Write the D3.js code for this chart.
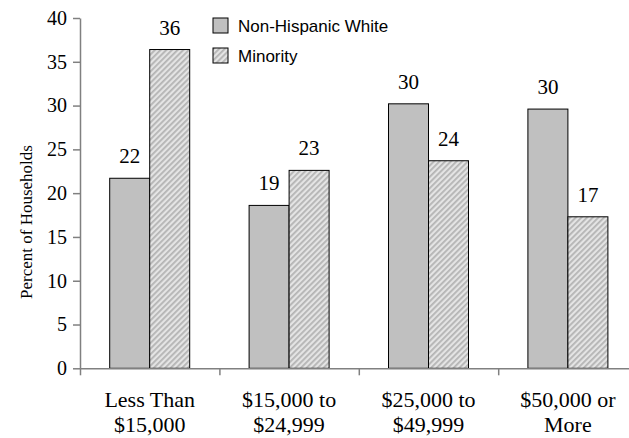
<!DOCTYPE html>
<html><head><meta charset="utf-8">
<script src="https://cdn.jsdelivr.net/npm/d3@7"></script>
<style>
html,body{margin:0;padding:0;background:#fff;}
svg{display:block;}
</style></head>
<body>
<svg id="chart" width="629" height="438"></svg>
<script>
const categories = ["Less Than|$15,000", "$15,000 to|$24,999", "$25,000 to|$49,999", "$50,000 or|More"];
const seriesNames = ["Non-Hispanic White", "Minority"];
const nonHispanicWhite = [21.7, 18.6, 30.2, 29.6];
const minority = [36.4, 22.6, 23.7, 17.3];
const yTicks = [0, 5, 10, 15, 20, 25, 30, 35, 40];

const svg = d3.select("#chart");
const defs = svg.append("defs");
const pat = defs.append("pattern").attr("id", "hatch").attr("patternUnits", "userSpaceOnUse")
  .attr("width", 4).attr("height", 4).attr("patternTransform", "rotate(45)");
pat.append("rect").attr("width", 4).attr("height", 4).attr("fill", "#e4e4e4");
pat.append("rect").attr("width", 1.8).attr("height", 4).attr("fill", "#b4b4b4");

const left = 80, right = 637.6, y0 = 368.3, y40 = 18;
const x = d3.scaleBand().domain(categories).range([left, right]).padding(0);
const sub = d3.scaleBand().domain(seriesNames).range([0, x.bandwidth()]).paddingInner(0).paddingOuter(0.7425);
const y = d3.scaleLinear().domain([0, 40]).range([y0, y40]);
const xb = d3.scaleLinear().domain([0, 4]).range([left, right]);

const fills = {"Non-Hispanic White": "#c0c0c0", "Minority": "url(#hatch)"};
const data = [];
categories.forEach((c, i) => {
  data.push({cat: c, s: seriesNames[0], v: nonHispanicWhite[i]});
  data.push({cat: c, s: seriesNames[1], v: minority[i]});
});

// bars
svg.append("g").selectAll("rect").data(data).join("rect")
  .attr("x", d => x(d.cat) + sub(d.s))
  .attr("y", d => y(d.v))
  .attr("width", sub.bandwidth())
  .attr("height", d => y(0) - y(d.v))
  .attr("fill", d => fills[d.s])
  .attr("stroke", "#000").attr("stroke-width", 1);

// value labels
svg.append("g").selectAll("text").data(data).join("text")
  .attr("x", d => x(d.cat) + sub(d.s) + sub.bandwidth() / 2)
  .attr("y", d => y(d.v) - 15)
  .attr("text-anchor", "middle")
  .attr("font-family", "Liberation Serif, Times New Roman, serif")
  .attr("font-size", 21)
  .attr("fill", "#000")
  .text(d => d3.format(".0f")(d.v));

// y axis
const ya = svg.append("g").attr("transform", `translate(${left},0)`)
  .call(d3.axisLeft(y).tickValues(yTicks).tickSize(7).tickSizeOuter(0).tickPadding(6));
ya.selectAll("path,line").attr("stroke", "#808080").attr("stroke-width", 1.5);
ya.selectAll("text").attr("font-family", "Liberation Serif, Times New Roman, serif")
  .attr("font-size", 20).attr("fill", "#000");

// x axis
const xa = svg.append("g").attr("transform", `translate(0,${y0})`)
  .call(d3.axisBottom(xb).ticks(4).tickFormat("").tickSize(7).tickSizeOuter(0));
xa.selectAll("path,line").attr("stroke", "#808080").attr("stroke-width", 1.5);

// category labels
const cl = svg.append("g").selectAll("text").data(categories).join("text")
  .attr("text-anchor", "middle")
  .attr("font-family", "Liberation Serif, Times New Roman, serif")
  .attr("font-size", 22)
  .attr("fill", "#000");
cl.each(function(c) {
  const parts = c.split("|");
  const t = d3.select(this);
  const cx = x(c) + x.bandwidth() / 2;
  t.append("tspan").attr("x", cx).attr("y", 407).text(parts[0]);
  t.append("tspan").attr("x", cx).attr("y", 432).text(parts[1]);
});

// y title
svg.append("text")
  .attr("transform", "translate(32,222) rotate(-90)")
  .attr("text-anchor", "middle")
  .attr("font-family", "Liberation Serif, Times New Roman, serif")
  .attr("font-size", 17)
  .attr("fill", "#000")
  .text("Percent of Households");

// legend
const lg = svg.append("g").selectAll("g").data(seriesNames).join("g")
  .attr("transform", (d, i) => `translate(213,${18 + i * 30})`);
lg.append("rect").attr("width", 15).attr("height", 15)
  .attr("fill", d => fills[d]).attr("stroke", "#000").attr("stroke-width", 1);
lg.append("text").attr("x", 25).attr("y", 14)
  .attr("font-family", "Liberation Sans, Arial, sans-serif")
  .attr("font-size", 17).attr("fill", "#000")
  .text(d => d);
</script>
</body></html>
